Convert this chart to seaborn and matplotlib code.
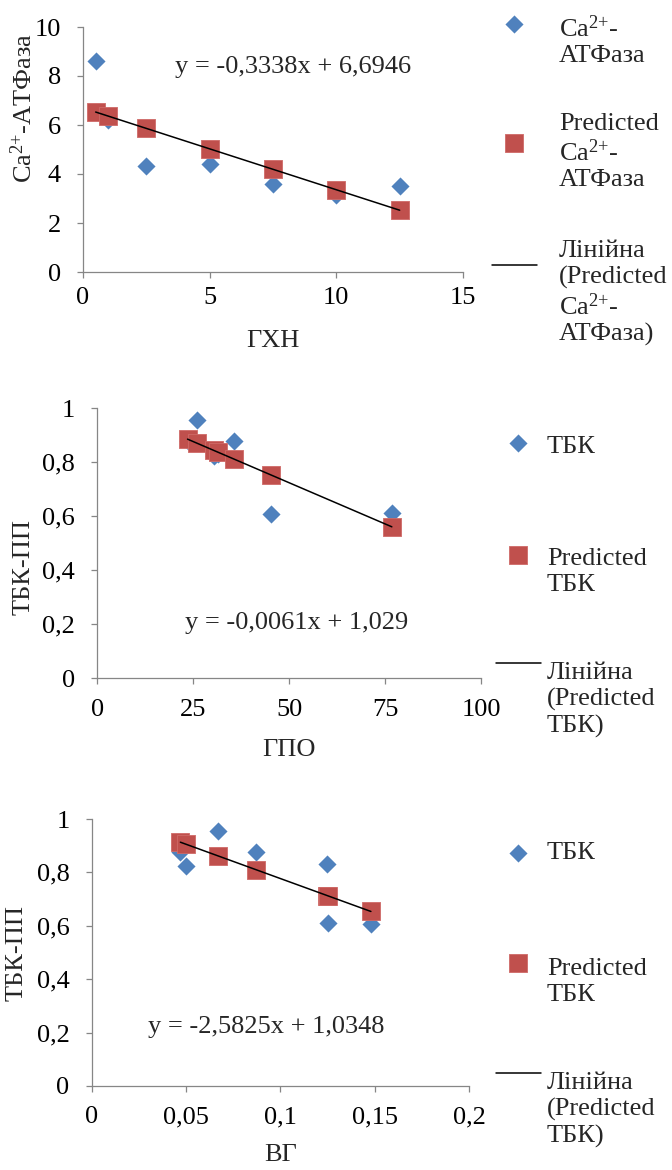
import matplotlib
matplotlib.use("Agg")
import matplotlib.pyplot as plt
from matplotlib.ticker import FuncFormatter, MultipleLocator
import seaborn as sns

# --- data ---
gxn = [0.5, 1.0, 2.5, 5.0, 7.5, 10.0, 12.5]
atp = [8.6, 6.2, 4.33, 4.4, 3.6, 3.13, 3.5]
atp_pred = [6.53, 6.36, 5.86, 5.03, 4.19, 3.36, 2.52]

gpo = [23.5, 26.0, 30.4, 31.5, 35.7, 45.3, 76.7]
tbk_gpo = [0.88, 0.955, 0.822, 0.83, 0.878, 0.607, 0.611]
tbk_gpo_pred = [0.886, 0.870, 0.844, 0.837, 0.811, 0.753, 0.561]

vg = [0.047, 0.050, 0.067, 0.087, 0.1245, 0.1255, 0.148]
tbk_vg = [0.878, 0.825, 0.955, 0.878, 0.830, 0.610, 0.605]
tbk_vg_pred = [0.913, 0.906, 0.862, 0.810, 0.713, 0.711, 0.655]

ca = "Ca$^{2{+}}$"
panels = [
    dict(x=gxn, y=atp, yp=atp_pred, xlabel="ГХН", ylabel=ca + "-АТФаза",
         xlim=(0, 15), xstep=5, ylim=(0, 10), ystep=2,
         eq="y = -0,3338x + 6,6946", eq_pos=(0.242, 0.837),
         labels=[ca + "-\nАТФаза", "Predicted\n" + ca + "-\nАТФаза",
                 "Лінійна\n(Predicted\n" + ca + "-\nАТФаза)"]),
    dict(x=gpo, y=tbk_gpo, yp=tbk_gpo_pred, xlabel="ГПО", ylabel="ТБК-ПП",
         xlim=(0, 100), xstep=25, ylim=(0, 1), ystep=0.2,
         eq="y = -0,0061x + 1,029", eq_pos=(0.228, 0.205),
         labels=["ТБК", "Predicted\nТБК", "Лінійна\n(Predicted\nТБК)"]),
    dict(x=vg, y=tbk_vg, yp=tbk_vg_pred, xlabel="ВГ", ylabel="ТБК-ПП",
         xlim=(0, 0.2), xstep=0.05, ylim=(0, 1), ystep=0.2,
         eq="y = -2,5825x + 1,0348", eq_pos=(0.149, 0.221),
         labels=["ТБК", "Predicted\nТБК", "Лінійна\n(Predicted\nТБК)"]),
]

# layout in pixels (left, top, right, bottom) of each plot area
W, H = 672, 1170
boxes = [(83, 27, 463, 272), (97.3, 408.3, 481.3, 678.3), (91.7, 819, 469, 1086)]
ylabel_pos = [(-0.155, 0.669), (-0.193, 0.412), (-0.198, 0.498)]
xlabel_y = [-0.28, -0.266, -0.258]
xpad = [7, 11, 10.5]
# legend: marker centres, text left / block centre (pixels)
leg_marks = [[(514, 24), (514, 143), (514.5, 267)],
             [(518, 443), (518, 555), (518.5, 665)],
             [(518, 853), (518, 963), (518.5, 1075)]]
leg_text_x = [559, 547, 547]
leg_text_y = [[41, 152, 293], [447, 572, 700], [853, 982, 1110]]

BLUE = "#4F81BD"
RED = "#C0504D"
GREY = "#868686"

sns.set_theme(style="ticks")
plt.rcParams["font.family"] = ["Liberation Serif", "DejaVu Serif"]
plt.rcParams["mathtext.fontset"] = "custom"
plt.rcParams["mathtext.rm"] = "Liberation Serif"
plt.rcParams["mathtext.it"] = "Liberation Serif"
FS = 19

comma = FuncFormatter(lambda v, p: f"{v:.10g}".replace(".", ","))

fig = plt.figure(figsize=(W / 100, H / 100), dpi=100)

for i, p in enumerate(panels):
    l, t, r, b = boxes[i]
    ax = fig.add_axes([l / W, 1 - b / H, (r - l) / W, (b - t) / H])

    sns.scatterplot(x=p["x"], y=p["y"], ax=ax, marker="D", s=85, color=BLUE,
                    linewidth=0, label=p["labels"][0], zorder=3)
    sns.scatterplot(x=p["x"], y=p["yp"], ax=ax, marker="s", s=150, color=RED,
                    edgecolor="#CF6A67", linewidth=0.6, label=p["labels"][1], zorder=4)
    sns.regplot(x=p["x"], y=p["yp"], ax=ax, scatter=False, ci=None, truncate=True,
                color="black", line_kws={"lw": 1.1, "zorder": 5}, label=p["labels"][2])
    if ax.get_legend() is not None:
        ax.get_legend().remove()

    ax.set_xlim(*p["xlim"])
    ax.set_ylim(*p["ylim"])
    ax.xaxis.set_major_locator(MultipleLocator(p["xstep"]))
    ax.yaxis.set_major_locator(MultipleLocator(p["ystep"]))
    ax.xaxis.set_major_formatter(comma)
    ax.yaxis.set_major_formatter(comma)

    sns.despine(ax=ax)
    for side in ("left", "bottom"):
        ax.spines[side].set_color(GREY)
        ax.spines[side].set_linewidth(0.9)
    ax.tick_params(axis="both", colors=GREY, labelcolor="black", labelsize=FS,
                   length=4, width=0.9, direction="out")
    ax.tick_params(axis="y", pad=12)
    ax.tick_params(axis="x", pad=xpad[i])

    ax.set_xlabel(p["xlabel"], fontsize=FS, va="center")
    ax.set_ylabel(p["ylabel"], fontsize=FS, va="center")
    ax.xaxis.set_label_coords(0.5, xlabel_y[i])
    ax.yaxis.set_label_coords(*ylabel_pos[i])

    ax.text(p["eq_pos"][0], p["eq_pos"][1], p["eq"], transform=ax.transAxes,
            fontsize=FS, ha="left", va="center")

    # legend: one handle per entry placed like the original, label text beside it
    handles, _ = ax.get_legend_handles_labels()
    for j, h in enumerate(handles):
        mx, my = leg_marks[i][j]
        fig.legend(handles=[h], labels=[""], loc="center",
                   bbox_to_anchor=(mx / W, 1 - my / H), frameon=False,
                   borderpad=0, borderaxespad=0, handlelength=1.7,
                   handletextpad=0, fontsize=FS)
        fig.text(leg_text_x[i] / W, 1 - leg_text_y[i][j] / H, p["labels"][j],
                 fontsize=FS, ha="left", va="center", linespacing=1.2)

fig.savefig("out.png", dpi=100)
